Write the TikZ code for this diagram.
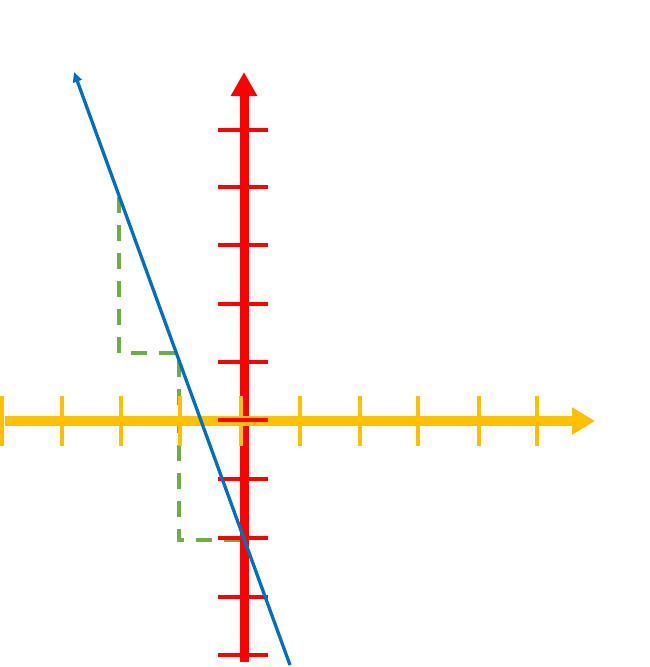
\documentclass[tikz,border=0pt]{standalone}
\usetikzlibrary{arrows.meta}
\definecolor{axyellow}{HTML}{FFC000}
\definecolor{axred}{HTML}{FF0000}
\definecolor{lnblue}{HTML}{0070C0}
\definecolor{dgreen}{HTML}{70AD47}
\begin{document}
\begin{tikzpicture}[x=1pt,y=-1pt,
  xtick/.style={axyellow,line width=3.6pt},
  ytick/.style={axred,line width=4pt},
  guide/.style={dgreen,line width=3.3pt,dash pattern=on 16pt off 12pt}]
\useasboundingbox (0,0) rectangle (650,667);
% coordinates
\coordinate (xs) at (5,421);
\coordinate (xe) at (595,421);
\coordinate (ys) at (244,662);
\coordinate (ye) at (244,72);
\coordinate (bs) at (290,665);
\coordinate (be) at (74,72);
\coordinate (g1) at (119,197);
\coordinate (g2) at (119,353);
\coordinate (g3) at (179,353);
\coordinate (g4) at (179,540);
\coordinate (g5) at (240,540);
% green guides
\draw[guide] (g1) -- (g2) -- (g3) -- (g4) -- (g5);
% y axis
\draw[axred,line width=9pt,-{Triangle[length=24pt,width=25pt]}] (ys) -- (ye);
% x axis
\draw[axyellow,line width=9.5pt,-{Triangle[length=23pt,width=26pt]}] (xs) -- (xe);
\foreach \x in {2,62,121,180,241,300,360,418,479,537}
  \draw[xtick] (\x,396) -- (\x,446);
\foreach \y in {130,187,245,304,362,420,479,538,597,655}
  \draw[ytick] (218,\y) -- (268,\y);
% blue line
\draw[lnblue,line width=3.3pt,-{Triangle[length=10pt,width=9pt]}] (bs) -- (be);
\end{tikzpicture}
\end{document}
